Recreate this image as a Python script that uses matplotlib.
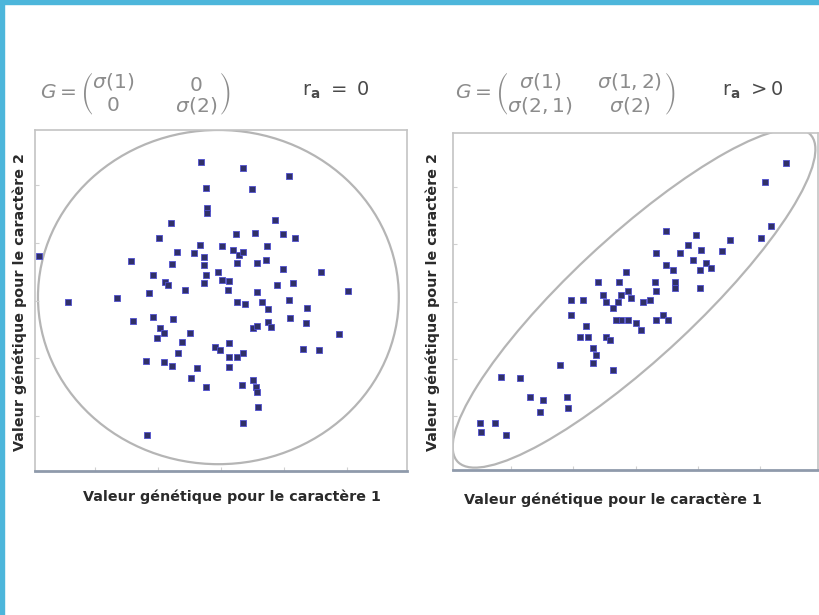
import matplotlib
matplotlib.use("Agg")
import matplotlib.pyplot as plt
from matplotlib.patches import Ellipse, Rectangle

# --- Données (axes de 0 à 10) ---
# panneau gauche : r_a = 0
left_x = [4.46, 5.60, 6.84, 4.60, 5.84, 4.63, 4.63, 3.65, 6.46, 3.34,
          5.39, 5.92, 6.66, 6.98, 6.23, 0.12, 2.58, 3.83, 3.67, 4.44,
          4.28, 4.54, 4.53, 5.04, 5.33, 5.49, 5.60, 5.44, 5.96, 6.21,
          3.18, 3.49, 3.58, 4.03, 4.59, 4.54, 4.93, 5.03, 5.22, 5.18,
          6.68, 6.93, 7.68, 8.41, 6.51, 5.96, 6.10, 6.25, 6.84, 6.85,
          7.32, 7.28, 2.21, 3.06, 0.88, 5.42, 5.65, 2.63, 3.18, 3.72,
          3.36, 3.27, 3.47, 3.94, 4.17, 3.84, 2.98, 3.47, 3.67, 4.35,
          4.19, 4.59, 4.83, 4.97, 5.21, 5.21, 5.22, 5.60, 5.44, 5.56,
          5.87, 5.94, 5.96, 5.99, 5.58, 3.00, 5.87, 5.96, 6.27, 6.34,
          7.63, 7.20, 8.18]
left_y = [9.07, 8.88, 8.65, 8.31, 8.26, 7.70, 7.58, 7.26, 7.36, 6.84,
          6.94, 6.97, 6.94, 6.84, 6.60, 6.30, 6.17, 6.41, 6.06, 6.63,
          6.38, 6.29, 6.04, 6.60, 6.48, 6.33, 6.43, 6.09, 6.09, 6.19,
          5.75, 5.53, 5.45, 5.31, 5.75, 5.50, 5.85, 5.60, 5.57, 5.31,
          5.92, 5.52, 5.83, 5.28, 5.44, 5.24, 4.97, 4.74, 5.01, 4.48,
          4.77, 4.33, 5.08, 5.21, 4.95, 4.97, 4.89, 4.40, 4.53, 4.45,
          4.18, 3.89, 4.04, 3.79, 4.04, 3.45, 3.24, 3.21, 3.09, 3.01,
          2.72, 2.45, 3.65, 3.55, 3.76, 3.35, 3.04, 3.45, 3.33, 2.52,
          2.67, 2.47, 2.33, 1.87, 1.40, 1.06, 4.18, 4.25, 4.38, 4.23,
          3.55, 3.57, 4.01]

# panneau droit : r_a > 0
right_x = [9.13, 8.54, 8.72, 8.45, 7.58, 7.38, 5.84, 6.65, 6.44, 6.80,
           5.55, 6.21, 6.58, 6.94, 7.08, 5.84, 6.03, 6.76, 6.07, 6.07,
           6.76, 4.75, 4.55, 3.97, 5.53, 5.57, 5.39, 5.21, 4.79, 4.61,
           4.89, 4.11, 4.20, 4.52, 4.38, 4.61, 4.47, 4.79, 5.02, 5.16,
           5.75, 5.89, 5.57, 3.24, 3.56, 3.24, 3.65, 3.47, 3.70, 4.20,
           4.29, 3.84, 3.93, 3.84, 2.92, 4.37, 1.32, 1.83, 2.10, 2.47,
           3.11, 3.15, 2.37, 0.73, 0.78, 1.14, 1.46]
right_y = [9.11, 8.56, 7.23, 6.88, 6.83, 6.49, 7.08, 6.98, 6.68, 6.53,
           6.44, 6.44, 6.24, 6.14, 5.99, 6.09, 5.94, 5.94, 5.59, 5.40,
           5.40, 5.89, 5.59, 5.59, 5.59, 5.30, 5.05, 5.00, 5.30, 5.20,
           5.10, 5.20, 5.00, 5.00, 4.80, 4.46, 4.46, 4.46, 4.36, 4.16,
           4.60, 4.46, 4.46, 5.05, 5.05, 4.60, 4.26, 3.96, 3.96, 3.96,
           3.86, 3.61, 3.42, 3.17, 3.12, 2.97, 2.77, 2.72, 2.18, 2.08,
           2.18, 1.83, 1.73, 1.39, 1.14, 1.39, 1.04]

# ellipses de covariance (centre, largeur, hauteur, angle)
CIRCLE = ((4.93, 5.10), 9.7, 9.8, 0)
ELLIPSE = ((4.96, 5.10), 13.7, 3.5, 45.4)

PT_FACE = "#303068"
PT_EDGE = "#5050d0"
MAT_GREY = "#8c8c8c"

fig = plt.figure(figsize=(8.2, 6.15), dpi=100)
fig.patch.set_facecolor("white")

# --- bordure cyan (haut et gauche) ---
fig.patches.append(Rectangle((0, 1 - 4 / 615), 1, 4 / 615, transform=fig.transFigure,
                             color="#4db6db", zorder=0))
fig.patches.append(Rectangle((0, 0), 4 / 820, 1, transform=fig.transFigure,
                             color="#4db6db", zorder=0))

ax1 = fig.add_axes([35 / 820, 1 - 471 / 615, 372 / 820, 341 / 615])
ax2 = fig.add_axes([453 / 820, 1 - 470 / 615, 365 / 820, 337 / 615])


def style_axes(ax):
    ax.set_xlim(0, 10)
    ax.set_ylim(0, 10)
    for side in ["top", "right", "left"]:
        ax.spines[side].set_color("#c4c4c4")
        ax.spines[side].set_linewidth(1.2)
    ax.spines["bottom"].set_color("#8f9aab")
    ax.spines["bottom"].set_linewidth(2)
    ax.set_xticks([1.6, 3.3, 5.0, 6.7, 8.4])
    ax.set_yticks([1.6, 3.3, 5.0, 6.7, 8.4])
    ax.tick_params(direction="in", length=3, color="#d0d0d0",
                   labelbottom=False, labelleft=False)


for ax, xs, ys, ell in [(ax1, left_x, left_y, CIRCLE), (ax2, right_x, right_y, ELLIPSE)]:
    style_axes(ax)
    (cx, cy), w, h, ang = ell
    ax.add_patch(Ellipse((cx, cy), w, h, angle=ang, fill=False,
                         edgecolor="#b5b5b5", linewidth=1.6, zorder=1))
    ax.scatter(xs, ys, s=16, marker="s", c=PT_FACE, edgecolors=PT_EDGE,
               linewidths=0.6, zorder=3)

# --- libellés des axes ---
lab_kw = dict(fontsize=10.3, fontweight="bold", color="#2a2a2a")
fig.text(20 / 820, 1 - 302 / 615, "Valeur génétique pour le caractère 2",
         rotation=90, ha="center", va="center", **lab_kw)
fig.text(433 / 820, 1 - 302 / 615, "Valeur génétique pour le caractère 2",
         rotation=90, ha="center", va="center", **lab_kw)
fig.text(232 / 820, 1 - 497 / 615, "Valeur génétique pour le caractère 1",
         ha="center", va="center", **lab_kw)
fig.text(613 / 820, 1 - 500 / 615, "Valeur génétique pour le caractère 1",
         ha="center", va="center", **lab_kw)

# --- matrices G et r_a ---
g_left = (r"$G = \left(\genfrac{}{}{0}{0}{\sigma(1)}{0}\qquad"
          r"\genfrac{}{}{0}{0}{0}{\sigma(2)}\right)$")
g_right = (r"$G = \left(\genfrac{}{}{0}{0}{\sigma(1)}{\sigma(2,1)}\quad\,"
           r"\genfrac{}{}{0}{0}{\sigma(1,2)}{\sigma(2)}\right)$")
fig.text(40 / 820, 1 - 94 / 615, g_left, fontsize=14.5, color=MAT_GREY, va="center")
fig.text(455 / 820, 1 - 94 / 615, g_right, fontsize=14.5, color=MAT_GREY, va="center")
fig.text(302 / 820, 1 - 90 / 615, r"$\mathrm{r}_{\mathbf{a}}\ =\ 0$",
         fontsize=14, color="#4a4a4a", va="center")
fig.text(722 / 820, 1 - 90 / 615, r"$\mathrm{r}_{\mathbf{a}}\ >0$",
         fontsize=14, color="#4a4a4a", va="center")

fig.savefig("out.png", dpi=100)
